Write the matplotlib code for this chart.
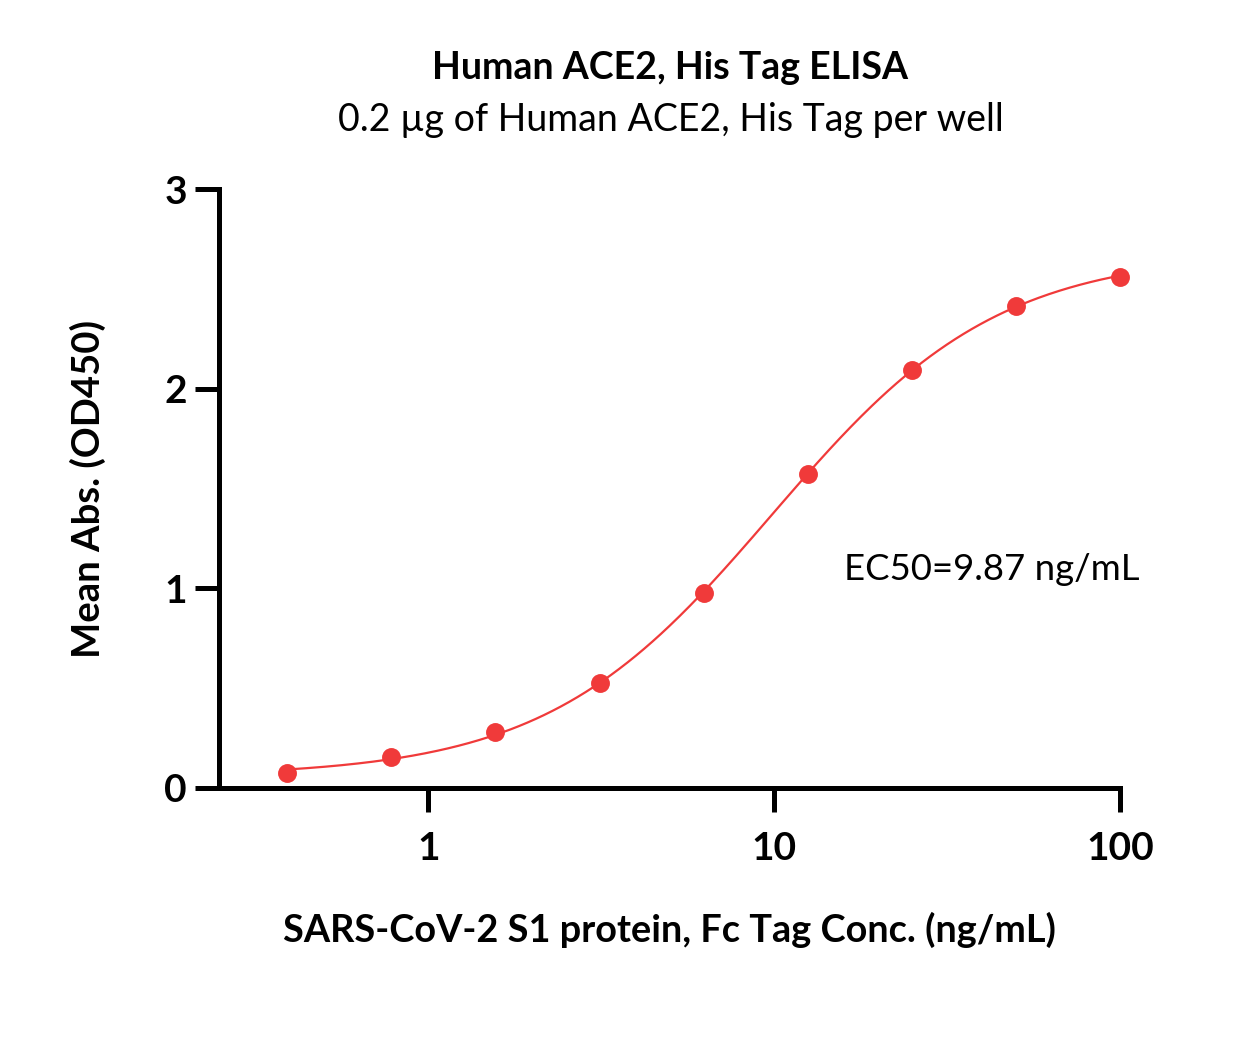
import numpy as np
import matplotlib
matplotlib.use("Agg")
import matplotlib.pyplot as plt
from matplotlib.ticker import FixedLocator, NullLocator

conc = [0.390625, 0.78125, 1.5625, 3.125, 6.25, 12.5, 25, 50, 100]
od = [0.075, 0.155, 0.28, 0.525, 0.975, 1.575, 2.095, 2.415, 2.56]
xticks = [1, 10, 100]
xticklabels = ["1", "10", "100"]
yticks = [0, 1, 2, 3]
title = "Human ACE2, His Tag ELISA"
subtitle = "0.2 \u00b5g of Human ACE2, His Tag per well"
xlabel = "SARS-CoV-2 S1 protein, Fc Tag Conc. (ng/mL)"
ylabel = "Mean Abs. (OD450)"
annot = "EC50=9.87 ng/mL"

x = np.array(conc, float)
y = np.array(od, float)


def model(p, xx):
    b, t, lec, h = p
    return b + (t - b) / (1 + 10 ** ((lec - np.log10(xx)) * h))


# 4PL least-squares fit (Levenberg-Marquardt)
p = np.array([0.05, 2.7, np.log10(9.87), 1.2])
lam = 1e-3
for _ in range(300):
    r = y - model(p, x)
    J = np.zeros((len(x), 4))
    for i in range(4):
        dp = np.zeros(4); dp[i] = 1e-6
        J[:, i] = (model(p + dp, x) - model(p - dp, x)) / 2e-6
    A = J.T @ J
    g = J.T @ r
    step = np.linalg.solve(A + lam * np.diag(np.diag(A)), g)
    pn = p + step
    if np.sum((y - model(pn, x)) ** 2) < np.sum(r ** 2):
        p = pn; lam *= 0.5
    else:
        lam *= 4

fam = ["Lato", "DejaVu Sans"]
plt.rcParams["font.family"] = fam

fig = plt.figure(figsize=(12.45, 10.44), dpi=100)
ax = fig.add_axes([219 / 1245, 1 - 788 / 1044, (1120 - 219) / 1245, (788 - 189) / 1044])

red = "#F03A3A"
xs = np.logspace(np.log10(conc[0]), np.log10(conc[-1]), 400)
ax.plot(xs, model(p, xs), color=red, lw=1.6, zorder=2)
ax.plot(conc, od, "o", color=red, ms=13.6, mec="none", zorder=3, clip_on=False)

ax.set_xscale("log")
ax.set_xlim(0.248, 100)
ax.set_ylim(0, 3)
ax.xaxis.set_major_locator(FixedLocator(xticks))
ax.xaxis.set_minor_locator(NullLocator())
ax.set_xticklabels(xticklabels)
ax.set_yticks(yticks)
for s in ["top", "right"]:
    ax.spines[s].set_visible(False)
for s in ["left", "bottom"]:
    ax.spines[s].set_linewidth(3.6)
    ax.spines[s].set_capstyle("projecting")
ax.tick_params(axis="both", width=3.6, length=17, labelsize=28)
ax.tick_params(axis="x", pad=14)
ax.tick_params(axis="y", pad=6)
for lab in ax.get_xticklabels() + ax.get_yticklabels():
    lab.set_fontweight("bold")

ax.set_xlabel(xlabel, fontsize=27.3, fontweight="bold", labelpad=33)
ax.set_ylabel(ylabel, fontsize=27.5, fontweight="bold", labelpad=42)

fig.text(0.5385, 1 - 68 / 1044, title, ha="center", va="center", fontsize=27, fontweight="bold")
fig.text(0.5385, 1 - 120 / 1044, subtitle, ha="center", va="center", fontsize=27)
ax.text(992 / 1245, 1 - 570 / 1044, annot, transform=fig.transFigure, ha="center", va="center", fontsize=26.3)

fig.savefig("out.png", dpi=100)
